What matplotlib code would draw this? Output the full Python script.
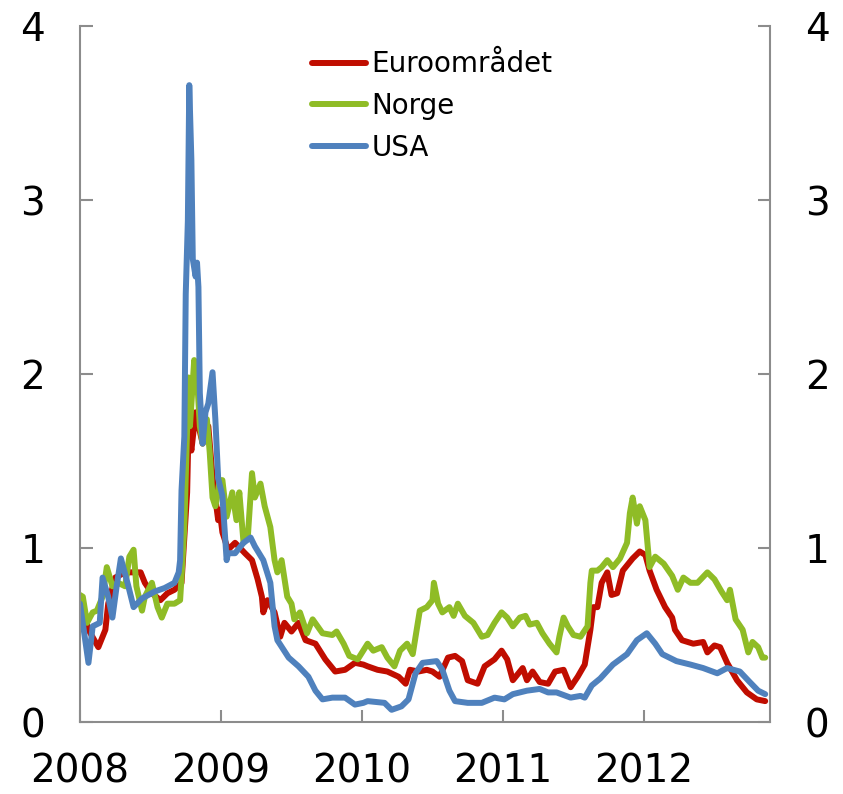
import matplotlib
matplotlib.use("Agg")
import matplotlib.pyplot as plt
import numpy as np

# år etter 2008 (desimal) og verdi, lest av figuren
euro_t = [0.00, 0.06, 0.13, 0.18, 0.20, 0.25, 0.32, 0.43, 0.46, 0.51, 0.57, 0.62, 0.67, 0.72, 0.73,
          0.76, 0.77, 0.79, 0.82, 0.83, 0.87, 0.91, 0.94, 0.98, 0.99, 1.01, 1.05, 1.10, 1.17, 1.22,
          1.26, 1.29, 1.30, 1.33, 1.38, 1.42, 1.45, 1.50, 1.55, 1.60, 1.67, 1.74, 1.81, 1.88, 1.95,
          2.01, 2.04, 2.11, 2.18, 2.26, 2.31, 2.34, 2.40, 2.46, 2.50, 2.55, 2.61, 2.66, 2.71, 2.75,
          2.82, 2.87, 2.94, 2.99, 3.03, 3.07, 3.14, 3.17, 3.21, 3.26, 3.32, 3.37, 3.43, 3.48, 3.53,
          3.58, 3.62, 3.64, 3.67, 3.70, 3.74, 3.77, 3.81, 3.85, 3.92, 3.97, 4.01, 4.04, 4.09, 4.15,
          4.20, 4.22, 4.27, 4.35, 4.42, 4.45, 4.50, 4.54, 4.59, 4.66, 4.73, 4.80, 4.86]
euro_v = [0.71, 0.53, 0.43, 0.53, 0.68, 0.83, 0.86, 0.86, 0.80, 0.74, 0.70, 0.74, 0.76, 0.80, 0.93,
          1.32, 1.70, 1.56, 1.78, 1.74, 1.60, 1.70, 1.41, 1.16, 1.22, 1.09, 0.99, 1.03, 0.97, 0.93,
          0.82, 0.72, 0.63, 0.70, 0.63, 0.49, 0.57, 0.52, 0.57, 0.47, 0.45, 0.36, 0.29, 0.30, 0.34,
          0.33, 0.32, 0.30, 0.29, 0.26, 0.22, 0.30, 0.29, 0.30, 0.29, 0.26, 0.37, 0.38, 0.35, 0.24,
          0.22, 0.32, 0.36, 0.41, 0.36, 0.24, 0.31, 0.24, 0.29, 0.23, 0.22, 0.29, 0.30, 0.20, 0.26,
          0.33, 0.53, 0.66, 0.66, 0.80, 0.86, 0.73, 0.74, 0.87, 0.94, 0.98, 0.96, 0.87, 0.76, 0.66,
          0.60, 0.53, 0.47, 0.45, 0.46, 0.40, 0.44, 0.43, 0.34, 0.24, 0.17, 0.13, 0.12]

norge_t = [0.00, 0.02, 0.05, 0.09, 0.12, 0.16, 0.19, 0.23, 0.27, 0.32, 0.35, 0.38, 0.40, 0.44, 0.46,
           0.51, 0.55, 0.58, 0.62, 0.67, 0.71, 0.72, 0.74, 0.77, 0.78, 0.81, 0.83, 0.85, 0.87, 0.90,
           0.92, 0.94, 0.96, 0.97, 0.99, 1.01, 1.04, 1.08, 1.11, 1.13, 1.16, 1.19, 1.22, 1.24, 1.28,
           1.31, 1.35, 1.38, 1.40, 1.43, 1.47, 1.50, 1.52, 1.56, 1.61, 1.65, 1.72, 1.79, 1.82, 1.87,
           1.91, 1.97, 2.04, 2.08, 2.14, 2.18, 2.23, 2.27, 2.32, 2.36, 2.41, 2.46, 2.50, 2.51, 2.54,
           2.57, 2.62, 2.65, 2.68, 2.73, 2.79, 2.85, 2.89, 2.94, 2.99, 3.03, 3.07, 3.12, 3.16, 3.19,
           3.24, 3.28, 3.33, 3.38, 3.40, 3.43, 3.46, 3.50, 3.55, 3.60, 3.62, 3.63, 3.67, 3.70, 3.74,
           3.78, 3.83, 3.88, 3.90, 3.92, 3.95, 3.97, 4.01, 4.04, 4.08, 4.14, 4.20, 4.24, 4.28, 4.33,
           4.38, 4.45, 4.50, 4.55, 4.59, 4.61, 4.65, 4.70, 4.74, 4.77, 4.81, 4.84, 4.86]
norge_v = [0.73, 0.72, 0.57, 0.63, 0.64, 0.72, 0.89, 0.78, 0.80, 0.78, 0.95, 0.99, 0.78, 0.64, 0.72,
           0.80, 0.66, 0.60, 0.68, 0.68, 0.70, 0.83, 1.12, 1.98, 1.70, 2.08, 1.98, 1.70, 1.60, 1.74,
           1.55, 1.29, 1.24, 1.28, 1.39, 1.39, 1.18, 1.32, 1.16, 1.32, 1.03, 1.06, 1.43, 1.29, 1.37,
           1.24, 1.12, 0.93, 0.86, 0.93, 0.72, 0.68, 0.59, 0.63, 0.51, 0.59, 0.51, 0.50, 0.52, 0.45,
           0.38, 0.36, 0.45, 0.41, 0.43, 0.37, 0.32, 0.41, 0.45, 0.39, 0.64, 0.66, 0.70, 0.80, 0.68,
           0.63, 0.66, 0.61, 0.68, 0.61, 0.57, 0.49, 0.50, 0.57, 0.63, 0.60, 0.55, 0.60, 0.61, 0.56,
           0.57, 0.51, 0.45, 0.40, 0.49, 0.60, 0.55, 0.50, 0.49, 0.55, 0.80, 0.87, 0.87, 0.89, 0.93,
           0.89, 0.94, 1.03, 1.20, 1.29, 1.14, 1.24, 1.16, 0.89, 0.95, 0.91, 0.84, 0.76, 0.83, 0.80,
           0.80, 0.86, 0.82, 0.75, 0.70, 0.76, 0.59, 0.53, 0.40, 0.46, 0.43, 0.37, 0.37]

usa_t = [0.00, 0.06, 0.09, 0.14, 0.16, 0.20, 0.23, 0.26, 0.29, 0.34, 0.38, 0.44, 0.53, 0.60, 0.67,
         0.70, 0.71, 0.72, 0.74, 0.75, 0.765, 0.775, 0.79, 0.80, 0.82, 0.83, 0.84, 0.85, 0.87, 0.89,
         0.91, 0.94, 0.96, 0.98, 1.01, 1.04, 1.05, 1.10, 1.16, 1.21, 1.24, 1.30, 1.35, 1.38, 1.40,
         1.48, 1.55, 1.62, 1.67, 1.72, 1.79, 1.88, 1.95, 2.01, 2.04, 2.16, 2.21, 2.28, 2.33, 2.38,
         2.43, 2.53, 2.57, 2.62, 2.66, 2.75, 2.85, 2.94, 3.01, 3.07, 3.17, 3.26, 3.32, 3.38, 3.48,
         3.55, 3.58, 3.63, 3.69, 3.78, 3.88, 3.95, 4.02, 4.08, 4.13, 4.23, 4.33, 4.42, 4.52, 4.59,
         4.68, 4.75, 4.81, 4.86]
usa_v = [0.68, 0.34, 0.55, 0.57, 0.83, 0.72, 0.60, 0.78, 0.94, 0.79, 0.66, 0.71, 0.75, 0.77, 0.80,
         0.86, 0.93, 1.33, 1.64, 2.46, 2.88, 3.66, 3.23, 2.66, 2.56, 2.64, 2.50, 1.89, 1.60, 1.78,
         1.83, 2.01, 1.74, 1.40, 1.30, 0.93, 0.97, 0.97, 1.03, 1.06, 1.01, 0.93, 0.80, 0.55, 0.47,
         0.37, 0.32, 0.26, 0.18, 0.13, 0.14, 0.14, 0.10, 0.11, 0.12, 0.11, 0.07, 0.09, 0.13, 0.28,
         0.34, 0.35, 0.30, 0.18, 0.12, 0.11, 0.11, 0.14, 0.13, 0.16, 0.18, 0.19, 0.17, 0.17, 0.14,
         0.15, 0.14, 0.21, 0.25, 0.33, 0.39, 0.47, 0.51, 0.45, 0.39, 0.35, 0.33, 0.31, 0.28, 0.31,
         0.29, 0.23, 0.18, 0.16]

years = [2008, 2009, 2010, 2011, 2012]
labels = ["Euroområdet", "Norge", "USA"]
farger = ["#C00D00", "#8FBC26", "#4F81BD"]

fig = plt.figure(figsize=(8.43, 7.94), dpi=100)
ax = fig.add_axes([80 / 843, 1 - 722 / 794, 690 / 843, 696 / 794])

for t, v, lab, c in zip([euro_t, norge_t, usa_t], [euro_v, norge_v, usa_v], labels, farger):
    ax.plot(2008 + np.array(t), v, color=c, lw=4.3, label=lab, solid_capstyle="round", solid_joinstyle="round")

ax.set_xlim(2008, 2012.894)
ax.set_ylim(0, 4)
ax.set_xticks(years)
ax.set_xticklabels([str(y) for y in years])
ax.set_yticks([0, 1, 2, 3, 4])

gra = "#8C8C8C"
ax.spines["top"].set_visible(False)
for s in ["left", "right", "bottom"]:
    ax.spines[s].set_color(gra)
    ax.spines[s].set_linewidth(1.5)

ax.tick_params(axis="both", direction="in", length=9, width=1.5, color=gra, labelsize=28, pad=25)
ax.tick_params(axis="y", right=True, labelright=True)
ax.tick_params(axis="x", pad=22)

ax.legend(loc="upper left", bbox_to_anchor=(0.304, 0.997), frameon=False, fontsize=20,
          handlelength=1.95, handletextpad=0.18, labelspacing=0.49, borderpad=0.3)

fig.savefig("out.png", dpi=100)
